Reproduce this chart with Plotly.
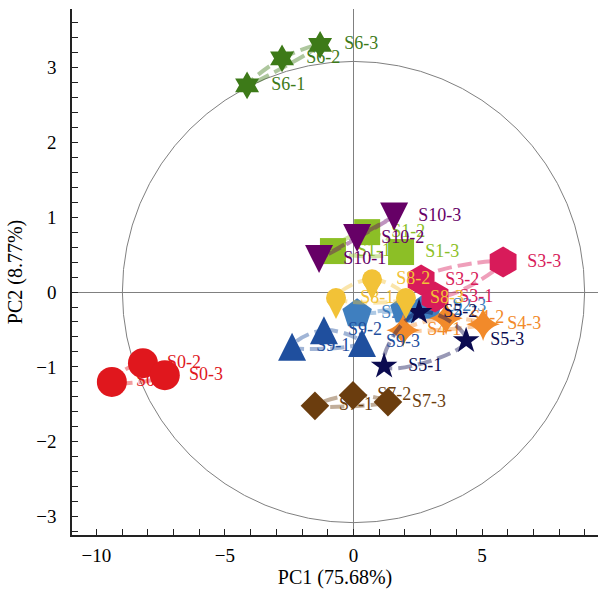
import plotly.graph_objects as go

# ---- data (PC1, PC2) per sample group ----
groups = ["S0", "S1", "S2", "S3", "S4", "S5", "S6", "S7", "S8", "S9", "S10"]

S0_x = [-9.40, -8.19, -7.34];   S0_y = [-1.20, -0.95, -1.11]
S1_x = [-0.80, 0.53, 1.85];     S1_y = [0.547, 0.80, 0.534]
S2_x = [0.14, 2.00, 2.90];      S2_y = [-0.29, -0.24, -0.19]
S3_x = [3.17, 2.63, 5.82];      S3_y = [-0.067, 0.16, 0.40]
S4_x = [1.93, 3.60, 5.04];      S4_y = [-0.51, -0.35, -0.43]
S5_x = [1.19, 2.55, 4.38];      S5_y = [-0.99, -0.27, -0.65]
S6_x = [-4.14, -2.78, -1.30];   S6_y = [2.76, 3.12, 3.30]
S7_x = [-1.50, -0.02, 1.34];    S7_y = [-1.52, -1.38, -1.47]
S8_x = [-0.68, 0.72, 2.04];     S8_y = [-0.08, 0.17, -0.08]
S9_x = [-2.39, -1.15, 0.33];    S9_y = [-0.73, -0.51, -0.68]
S10_x = [-1.34, 0.14, 1.58];    S10_y = [0.44, 0.72, 1.01]

xs = [S0_x, S1_x, S2_x, S3_x, S4_x, S5_x, S6_x, S7_x, S8_x, S9_x, S10_x]
ys = [S0_y, S1_y, S2_y, S3_y, S4_y, S5_y, S6_y, S7_y, S8_y, S9_y, S10_y]

colors = ["#e0171d", "#8cbf26", "#3f7fbf", "#d81b5a", "#f28a2a", "#0b0b50",
          "#3d7a18", "#6b3d0e", "#f2c237", "#1f4f9e", "#660066"]
symbols = ["circle", "square", "pentagon", "hexagon", "star-diamond", "star",
           "hexagram", "diamond", "circle", "arrow-up", "arrow-down"]
sizes = [30, 26, 31, 31, 24, 20, 21, 22, 20, 28, 28]

X_RANGE = [-10.95, 9.51]
Y_RANGE = [-3.245, 3.78]
PLOT_H = 592 - 9 - 57
PX_PER_Y = PLOT_H / (Y_RANGE[1] - Y_RANGE[0])

def hex_to_rgba(h, a):
    h = h.lstrip("#")
    return "rgba(%d,%d,%d,%.2f)" % (int(h[0:2], 16), int(h[2:4], 16), int(h[4:6], 16), a)

FONT = "Liberation Serif, Times New Roman, serif"

fig = go.Figure()

for g, x, y, c, sym, sz in zip(groups, xs, ys, colors, symbols, sizes):
    # closed dashed loop through the three replicates
    fig.add_trace(go.Scatter(
        x=x + [x[0]], y=y + [y[0]], mode="lines",
        line=dict(shape="spline", smoothing=1.3, color=hex_to_rgba(c, 0.42),
                  width=4, dash="14px,6px"),
        hoverinfo="skip", showlegend=False))
    if g == "S8":
        # pin marker: round head + pointed tip
        tip_y = [v - 21 / PX_PER_Y for v in y]
        fig.add_trace(go.Scatter(x=x, y=tip_y, mode="markers",
                                 marker=dict(symbol="arrow-down", size=17.6, color=c, line=dict(width=0)),
                                 showlegend=False))
        fig.add_trace(go.Scatter(x=x, y=y, mode="markers",
                                 marker=dict(symbol="circle", size=sz, color=c, line=dict(width=0)),
                                 showlegend=False))
    elif sym == "arrow-up":
        tip_y = [v + 14 / PX_PER_Y for v in y]
        fig.add_trace(go.Scatter(x=x, y=tip_y, mode="markers",
                                 marker=dict(symbol=sym, size=sz, color=c, line=dict(width=0)),
                                 showlegend=False))
    elif sym == "arrow-down":
        tip_y = [v - 14 / PX_PER_Y for v in y]
        fig.add_trace(go.Scatter(x=x, y=tip_y, mode="markers",
                                 marker=dict(symbol=sym, size=sz, color=c, line=dict(width=0)),
                                 showlegend=False))
    else:
        fig.add_trace(go.Scatter(x=x, y=y, mode="markers",
                                 marker=dict(symbol=sym, size=sz, color=c, line=dict(width=0)),
                                 showlegend=False))
    labels = ["%s-%d" % (g, i + 1) for i in range(len(x))]
    fig.add_trace(go.Scatter(
        x=x, y=y, mode="markers+text", text=labels, textposition="middle right",
        textfont=dict(family=FONT, size=18, color=c),
        marker=dict(size=37, opacity=0), hoverinfo="skip", showlegend=False))

# correlation-style ellipse (circle in screen space)
fig.add_shape(type="circle", xref="x", yref="y", x0=-8.99, x1=8.99, y0=-3.08, y1=3.08,
              line=dict(color="#808080", width=1), layer="below")

fig.update_layout(
    width=598, height=592,
    margin=dict(l=72, r=0, t=9, b=57),
    paper_bgcolor="white", plot_bgcolor="white",
    font=dict(family=FONT, size=19, color="black"),
    showlegend=False,
)
fig.update_xaxes(
    range=X_RANGE, automargin=False, showgrid=False,
    zeroline=True, zerolinecolor="#808080", zerolinewidth=1,
    showline=True, linecolor="#222", linewidth=1.6,
    ticks="inside", ticklen=6, tickcolor="#222", tickwidth=1.2, dtick=5, tick0=0,
    minor=dict(ticks="inside", dtick=1, ticklen=6, tickcolor="#222", tickwidth=1.2),
    tickfont=dict(family=FONT, size=19), ticklabelstandoff=2,
    title=dict(text="PC1 (75.68%)", font=dict(family=FONT, size=20), standoff=4),
)
fig.update_yaxes(
    range=Y_RANGE, automargin=False, showgrid=False,
    zeroline=True, zerolinecolor="#808080", zerolinewidth=1,
    showline=True, linecolor="#222", linewidth=1.6,
    ticks="inside", ticklen=6, tickcolor="#222", tickwidth=1.2, dtick=1, tick0=0,
    minor=dict(ticks="inside", dtick=0.2, ticklen=6, tickcolor="#222", tickwidth=1.2),
    tickfont=dict(family=FONT, size=19), ticklabelstandoff=10,
    title=dict(text="PC2 (8.77%)", font=dict(family=FONT, size=20), standoff=8),
)

fig.write_html("out.html", config={"displayModeBar": False},
               post_script="document.body.style.margin='0';document.body.style.overflow='hidden';")
